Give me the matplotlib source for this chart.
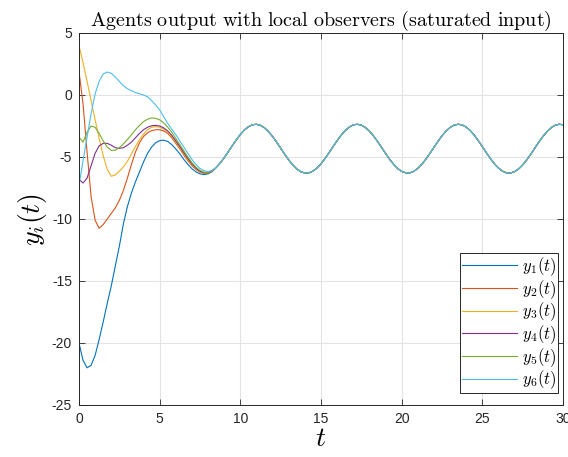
import numpy as np
import matplotlib
matplotlib.use("Agg")
import matplotlib.pyplot as plt

plt.rcParams['mathtext.fontset'] = 'cm'
plt.rcParams['font.family'] = ['Liberation Sans', 'DejaVu Sans']
plt.rcParams['axes.unicode_minus'] = False

# transient time grid (0 .. 8.25, step 0.25)
t_head = [0.0, 0.25, 0.5, 0.75, 1.0, 1.25, 1.5, 1.75, 2.0, 2.25, 2.5, 2.75,
          3.0, 3.25, 3.5, 3.75, 4.0, 4.25, 4.5, 4.75, 5.0, 5.25, 5.5, 5.75,
          6.0, 6.25, 6.5, 6.75, 7.0, 7.25, 7.5, 7.75, 8.0, 8.25]

y1_head = [-20.0, -21.4, -22.0, -21.8, -21.0, -19.7, -18.3, -16.8, -15.4, -13.8, -12.2, -10.4,
           -9.0, -7.9, -7.0, -6.2, -5.4, -4.7, -4.2, -3.85, -3.68, -3.64, -3.75, -4.0,
           -4.35, -4.75, -5.2, -5.6, -5.95, -6.2, -6.36, -6.42, -6.36, -6.18]
y2_head = [1.9, -0.7, -4.6, -8.2, -10.1, -10.75, -10.45, -10.0, -9.55, -9.1, -8.5, -7.7,
           -6.7, -5.6, -4.6, -3.85, -3.35, -3.05, -2.88, -2.8, -2.8, -2.9, -3.1, -3.45,
           -3.9, -4.35, -4.85, -5.3, -5.7, -6.0, -6.22, -6.32, -6.3, -6.14]
y3_head = [4.0, 2.6, 1.1, -0.45, -2.0, -3.5, -4.9, -6.0, -6.55, -6.45, -6.15, -5.8,
           -5.35, -4.75, -4.15, -3.6, -3.15, -2.8, -2.6, -2.55, -2.6, -2.75, -3.0, -3.35,
           -3.8, -4.25, -4.75, -5.2, -5.62, -5.95, -6.18, -6.3, -6.28, -6.12]
y4_head = [-6.8, -7.1, -6.7, -5.7, -4.7, -4.1, -3.9, -3.9, -4.05, -4.25, -4.3, -4.25,
           -4.05, -3.8, -3.45, -3.1, -2.8, -2.6, -2.48, -2.45, -2.5, -2.65, -2.9, -3.25,
           -3.7, -4.15, -4.65, -5.12, -5.55, -5.9, -6.15, -6.27, -6.27, -6.12]
y5_head = [-3.4, -3.8, -3.0, -2.5, -2.6, -3.1, -3.7, -4.2, -4.47, -4.45, -4.25, -3.95,
           -3.6, -3.2, -2.8, -2.45, -2.15, -1.95, -1.85, -1.88, -2.0, -2.25, -2.6, -3.0,
           -3.5, -4.0, -4.5, -5.0, -5.45, -5.82, -6.08, -6.23, -6.25, -6.11]
y6_head = [-7.3, -5.3, -3.4, -1.5, 0.1, 1.1, 1.7, 1.85, 1.75, 1.45, 1.1, 0.75,
           0.5, 0.35, 0.2, 0.1, 0.0, -0.15, -0.45, -0.8, -1.2, -1.75, -2.3, -2.75,
           -3.2, -3.7, -4.2, -4.7, -5.2, -5.6, -5.92, -6.1, -6.18, -6.08]

# common steady-state tail (8.5 .. 30, step 0.25)
t_tail = [8.5, 8.75, 9.0, 9.25, 9.5, 9.75, 10.0, 10.25, 10.5, 10.75, 11.0, 11.25,
          11.5, 11.75, 12.0, 12.25, 12.5, 12.75, 13.0, 13.25, 13.5, 13.75, 14.0, 14.25,
          14.5, 14.75, 15.0, 15.25, 15.5, 15.75, 16.0, 16.25, 16.5, 16.75, 17.0, 17.25,
          17.5, 17.75, 18.0, 18.25, 18.5, 18.75, 19.0, 19.25, 19.5, 19.75, 20.0, 20.25,
          20.5, 20.75, 21.0, 21.25, 21.5, 21.75, 22.0, 22.25, 22.5, 22.75, 23.0, 23.25,
          23.5, 23.75, 24.0, 24.25, 24.5, 24.75, 25.0, 25.25, 25.5, 25.75, 26.0, 26.25,
          26.5, 26.75, 27.0, 27.25, 27.5, 27.75, 28.0, 28.25, 28.5, 28.75, 29.0, 29.25,
          29.5, 29.75, 30.0]
y_tail = [-5.85, -5.49, -5.06, -4.58, -4.09, -3.62, -3.18, -2.82, -2.56, -2.40, -2.36, -2.45,
          -2.65, -2.96, -3.35, -3.80, -4.29, -4.78, -5.24, -5.64, -5.97, -6.19, -6.29, -6.28,
          -6.14, -5.89, -5.55, -5.12, -4.65, -4.16, -3.68, -3.24, -2.87, -2.59, -2.41, -2.36,
          -2.43, -2.62, -2.91, -3.29, -3.74, -4.22, -4.71, -5.18, -5.59, -5.93, -6.16, -6.28,
          -6.28, -6.16, -5.92, -5.59, -5.18, -4.71, -4.22, -3.74, -3.29, -2.91, -2.62, -2.43,
          -2.36, -2.41, -2.59, -2.87, -3.24, -3.68, -4.16, -4.65, -5.12, -5.55, -5.89, -6.14,
          -6.28, -6.29, -6.18, -5.96, -5.64, -5.24, -4.78, -4.29, -3.80, -3.35, -2.96, -2.65,
          -2.45, -2.36, -2.40]

labels = [r'$y_1(t)$', r'$y_2(t)$', r'$y_3(t)$', r'$y_4(t)$', r'$y_5(t)$', r'$y_6(t)$']
colors = ['#0072BD', '#D95319', '#EDB120', '#7E2F8E', '#77AC30', '#4DBEEE']
heads = [y1_head, y2_head, y3_head, y4_head, y5_head, y6_head]

fig = plt.figure(figsize=(5.68, 4.57), dpi=100)
ax = fig.add_axes([79/568, 1-405/457, 484/568, 372/457])

t_all = np.array(t_head + t_tail)
for h, c, lab in zip(heads, colors, labels):
    ax.plot(t_all, np.array(h + y_tail), color=c, lw=0.8, label=lab)

ax.set_xlim(0, 30)
ax.set_ylim(-25, 5)
ax.set_xticks([0, 5, 10, 15, 20, 25, 30])
ax.set_yticks([-25, -20, -15, -10, -5, 0, 5])
ax.grid(True, color='#e3e3e3', lw=0.8)
ax.set_axisbelow(True)
ax.tick_params(direction='in', top=True, right=True, length=4, width=0.6,
               labelsize=10, colors='#262626', pad=5)
for s in ax.spines.values():
    s.set_color('#262626')
    s.set_linewidth(0.7)

ax.set_title(r'$\mathrm{Agents\ output\ with\ local\ observers\ (saturated\ input)}$',
             fontsize=14.5, pad=5)
ax.set_xlabel(r'$t$', fontsize=20, labelpad=0)
ax.set_ylabel(r'$y_i(t)$', fontsize=20, labelpad=2)

leg = ax.legend(loc='lower right', bbox_to_anchor=(0.9897, 0.032), borderaxespad=0,
                fancybox=False, framealpha=1, edgecolor='#262626', fontsize=12,
                handlelength=3.3, handletextpad=0.3, labelspacing=0.0,
                borderpad=0.1)
leg.get_frame().set_linewidth(0.7)

fig.savefig('out.png', dpi=100)
